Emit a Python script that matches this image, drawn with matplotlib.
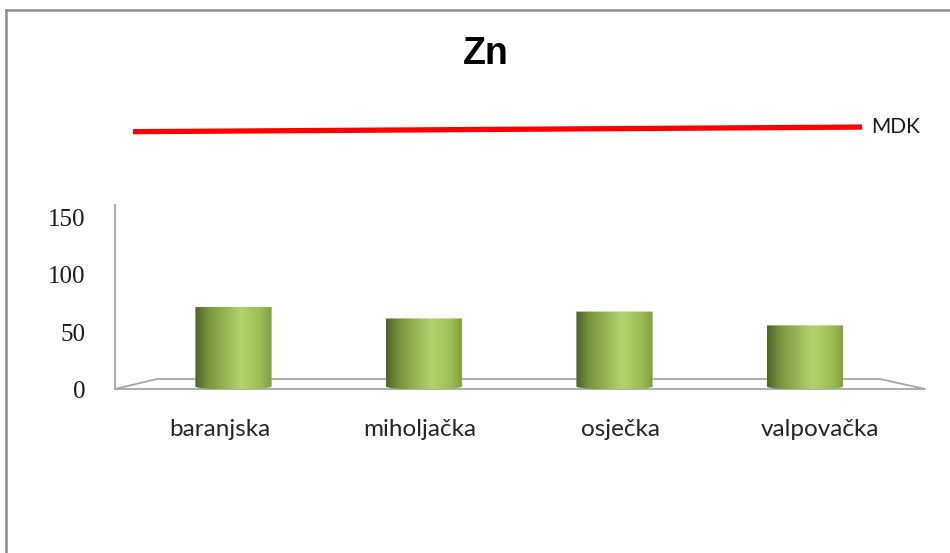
import numpy as np
import matplotlib
matplotlib.use("Agg")
import matplotlib.pyplot as plt
from matplotlib.colors import LinearSegmentedColormap
from matplotlib.path import Path
from matplotlib.patches import PathPatch
from matplotlib.lines import Line2D
from matplotlib.transforms import ScaledTranslation

# ---------------- data ----------------
categories = ["baranjska", "miholjačka", "osječka", "valpovačka"]
values = [69, 59, 65, 53]
mdk_label = "MDK"
mdk_values = [221, 225]          # limit line (drawn above the axis range)
yticks = [0, 50, 100, 150]
title = "Zn"

# ---------------- figure ----------------
W, H = 950, 553
fig = plt.figure(figsize=(W / 100, H / 100), dpi=100)
fig.patch.set_facecolor("white")

# outer chart border (top and left)
fig.add_artist(Line2D([6 / W, 1], [1 - 10 / H] * 2, color="#8c8c8c", lw=1.8))
fig.add_artist(Line2D([6 / W] * 2, [0, 1 - 10 / H], color="#8c8c8c", lw=1.8))

left, right, top, bottom = 115, 925, 205, 389
ax = fig.add_axes([left / W, 1 - bottom / H, (right - left) / W, (bottom - top) / H])
ax.set_facecolor("none")

scale = 1.153      # px per unit
zero_px = 386.5
spacing = 190.5
first_px = 233.5
ax.set_xlim(-(first_px - left) / spacing, (right - first_px) / spacing)
ax.set_ylim(-(bottom - zero_px) / scale, (zero_px - top) / scale)

x = np.arange(len(categories))
bar_w = 0.40
xmin, xmax = ax.get_xlim()
ymin, ymax = ax.get_ylim()

# floor (3D-like)
back_y = (zero_px - 379) / scale
floor_x = [xmin, xmax, (880 - first_px) / spacing, (157 - first_px) / spacing, xmin]
floor_y = [ymin, ymin, back_y, back_y, ymin]
ax.plot(floor_x, floor_y, color="#a6a6a6", lw=1.3, clip_on=False, zorder=1)

# cylinder-like bars with gradient
cmap = LinearSegmentedColormap.from_list(
    "cyl",
    [(0.0, "#4f6427"), (0.18, "#7a963f"), (0.6, "#b3d46d"), (0.85, "#9cbc56"), (1.0, "#809f42")],
)
grad = np.linspace(0, 1, 256).reshape(1, -1)
ell_h = 3.0 / scale
for xi, v in zip(x, values):
    x0, x1 = xi - bar_w / 2, xi + bar_w / 2
    t = np.linspace(np.pi, 2 * np.pi, 30)
    bx = xi + (bar_w / 2) * np.cos(t)
    by = ell_h * np.sin(t)
    verts = [(x0, v)] + list(zip(bx, by)) + [(x1, v), (x0, v)]
    codes = [Path.MOVETO] + [Path.LINETO] * (len(verts) - 2) + [Path.CLOSEPOLY]
    patch = PathPatch(Path(verts, codes), facecolor="none", edgecolor="none")
    ax.add_patch(patch)
    im = ax.imshow(grad, cmap=cmap, aspect="auto", extent=[x0, x1, -ell_h, v],
                   zorder=2, interpolation="bilinear")
    im.set_clip_path(patch)

ax.set_xlim(xmin, xmax)
ax.set_ylim(ymin, ymax)

# axes styling
for s in ["top", "right", "bottom"]:
    ax.spines[s].set_visible(False)
ax.spines["left"].set_color("#a6a6a6")
ax.spines["left"].set_linewidth(1.3)
ax.set_yticks(yticks)
ax.set_yticklabels([str(t) for t in yticks], fontfamily="Liberation Serif",
                   fontsize=18, color="#1a1a1a")
ax.tick_params(axis="y", length=0, pad=21)
shift = ScaledTranslation(0, -3.5 / 100, fig.dpi_scale_trans)
for lbl in ax.get_yticklabels():
    lbl.set_transform(lbl.get_transform() + shift)

# perspective: front labels spread around a center
c = 1.42
label_pos = c + 1.05 * (x - c)
ax.set_xticks(label_pos)
ax.set_xticklabels(categories, fontfamily="Lato", fontsize=17.5, color="#262626")
ax.tick_params(axis="x", length=0, pad=21.5)

# MDK limit line (above the plotted range)
mdk_x = [(133 - first_px) / spacing, (862 - first_px) / spacing]
ax.plot(mdk_x, mdk_values, color="#ff0000", lw=3.8, clip_on=False, solid_capstyle="butt", zorder=3)
ax.text(mdk_x[1] + 0.05, mdk_values[1], mdk_label, fontfamily="Lato", fontsize=15,
        color="#1a1a1a", va="center", ha="left", clip_on=False)

# title
fig.text(486 / W, 1 - 54.5 / H, title, fontfamily="Liberation Sans", fontweight="bold",
         fontsize=27, ha="center", va="center", color="black")

fig.savefig("out.png", dpi=100, facecolor="white")
